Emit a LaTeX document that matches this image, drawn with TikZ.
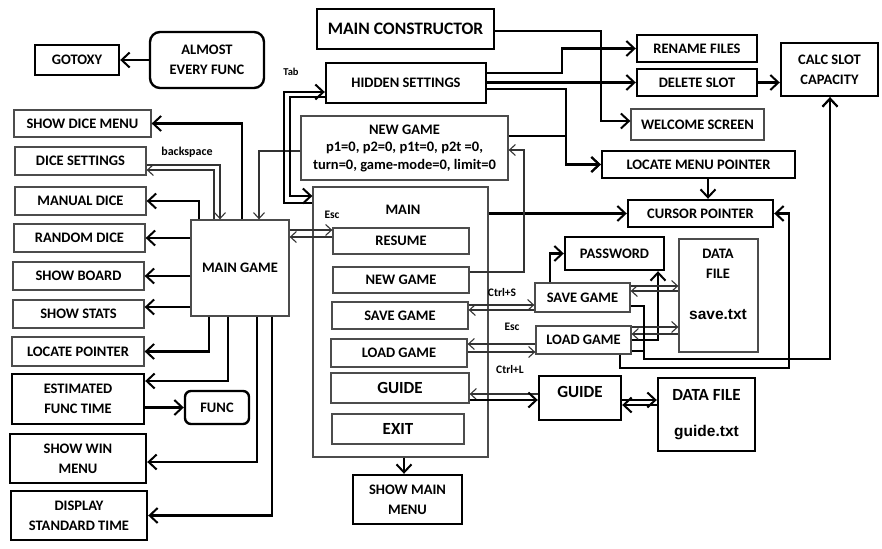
\documentclass[tikz,border=0pt]{standalone}
\usepackage{fontspec}
\setmainfont{Carlito}
\newfontfamily\arialbf{Liberation Sans}
\usetikzlibrary{arrows.meta}

\begin{document}
\begin{tikzpicture}[x=1pt, y=-1pt,
  >={Straight Barb[length=8pt,width=15pt,line width=2pt]},
  kb/.style={draw, line width=2.4pt, align=center, inner sep=1pt,
             font=\bfseries\fontsize{14.5}{20}\selectfont},
  tb/.style={draw=black!70, line width=1.3pt, align=center, inner sep=1pt,
             font=\bfseries\fontsize{14.5}{20}\selectfont},
  big/.style={font=\bfseries\fontsize{17}{20}\selectfont},
  ln/.style={line width=2.4pt},
  tl/.style={line width=1.1pt, draw=black!80, >={Straight Barb[length=6pt,width=11pt]}},
  key/.style={font=\bfseries\fontsize{11.5}{13}\selectfont, inner sep=0pt}]
\useasboundingbox (0,0) rectangle (882,548);

% left column
\node[kb, rounded corners=10pt, minimum width=114pt, minimum height=56pt] (almost) at (207,60) {ALMOST\\EVERY FUNC};
\node[kb, minimum width=84pt, minimum height=30pt] (gotoxy) at (77,60) {GOTOXY};
\node[tb, minimum width=137pt, minimum height=27pt] (showdice) at (82.5,123.5) {SHOW DICE MENU};
\node[tb, minimum width=131pt, minimum height=28pt] (dicesett) at (80.5,161) {DICE SETTINGS};
\node[tb, minimum width=131pt, minimum height=28pt] (manualdice) at (80.5,201) {MANUAL DICE};
\node[tb, minimum width=131pt, minimum height=28pt] (randomdice) at (79.5,238) {RANDOM DICE};
\node[tb, minimum width=131pt, minimum height=28pt] (showboard) at (78.5,276) {SHOW BOARD};
\node[tb, minimum width=131pt, minimum height=28pt] (showstats) at (78.5,314) {SHOW STATS};
\node[tb, minimum width=132pt, minimum height=29pt] (locateptr) at (78,351.5) {LOCATE POINTER};
\node[kb, minimum width=132pt, minimum height=50pt] (estfunc) at (78,399) {ESTIMATED\\FUNC TIME};
\node[kb, rounded corners=6pt, minimum width=64pt, minimum height=33pt] (func) at (217,407.5) {FUNC};
\node[kb, minimum width=136pt, minimum height=49pt] (showwin) at (78,458.5) {SHOW WIN\\MENU};
\node[kb, minimum width=136pt, minimum height=49pt] (disptime) at (79,515.5) {DISPLAY\\STANDARD TIME};
\node[tb, minimum width=98pt, minimum height=96pt] (maingame) at (240,268) {MAIN GAME};

% centre
\node[kb, minimum width=177pt, minimum height=40pt, font=\bfseries\fontsize{17.5}{20}\selectfont] (mainctor) at (405.5,29) {MAIN CONSTRUCTOR};
\node[kb, minimum width=160pt, minimum height=40pt] (hidden) at (406,83) {HIDDEN SETTINGS};
\node[tb, minimum width=207pt, minimum height=64pt, font=\bfseries\fontsize{14.5}{17.5}\selectfont] (newparams) at (404.5,148)
  {NEW GAME\\p1=0, p2=0, p1t=0, p2t =0,\\turn=0, game-mode=0, limit=0};
\node[tb, minimum width=175pt, minimum height=270pt] (mainbox) at (400.5,322) {};
\node[font=\bfseries\fontsize{14.5}{20}\selectfont] (maintitle) at (403,210) {MAIN};
\node[tb, minimum width=136pt, minimum height=26pt] (resume) at (401,241) {RESUME};
\node[tb, minimum width=136pt, minimum height=26pt] (newgame) at (401,280) {NEW GAME};
\node[tb, minimum width=136pt, minimum height=27pt] (savegame) at (400,315.5) {SAVE GAME};
\node[tb, minimum width=136pt, minimum height=28pt] (loadgame) at (399,353) {LOAD GAME};
\node[tb, big, minimum width=138pt, minimum height=30pt] (guide) at (400,388) {GUIDE};
\node[tb, big, minimum width=132pt, minimum height=30pt] (exit) at (398,429) {EXIT};
\node[kb, minimum width=109pt, minimum height=49pt] (showmain) at (407.5,499.5) {SHOW MAIN\\MENU};

% right
\node[kb, minimum width=120pt, minimum height=27pt] (rename) at (697,48.5) {RENAME FILES};
\node[kb, minimum width=120pt, minimum height=27pt] (delslot) at (697,82.5) {DELETE SLOT};
\node[kb, minimum width=97pt, minimum height=53pt] (calcslot) at (829.5,69.5) {CALC SLOT\\CAPACITY};
\node[tb, minimum width=133pt, minimum height=31pt] (welcome) at (697.5,124.5) {WELCOME SCREEN};
\node[kb, minimum width=193pt, minimum height=27pt] (locmenu) at (698.5,164.5) {LOCATE MENU POINTER};
\node[kb, minimum width=145pt, minimum height=27pt] (cursor) at (700.5,213.5) {CURSOR POINTER};
\node[kb, minimum width=99pt, minimum height=33pt] (password) at (614.5,253.5) {PASSWORD};
\node[tb, minimum width=79pt, minimum height=113pt] (savefile) at (718.5,295.5) {};
\node[align=center, font=\bfseries\fontsize{14.5}{20}\selectfont] (savefiletxt) at (718,284)
  {DATA\\FILE\\[21pt]{\arialbf\fontsize{15.5}{18}\selectfont save.txt}};
\node[tb, minimum width=95pt, minimum height=29pt] (savegame2) at (582.5,297.5) {SAVE GAME};
\node[tb, minimum width=95pt, minimum height=28pt] (loadgame2) at (583.5,340) {LOAD GAME};
\node[kb, big, minimum width=82pt, minimum height=44pt, text depth=12pt] (guide2) at (580,398) {GUIDE};
\node[kb, big, minimum width=97pt, minimum height=73pt] (guidefile) at (706.5,414.5)
  {DATA FILE\\[16pt]{\arialbf\fontsize{15.5}{18}\selectfont guide.txt}};

% left connectors
\draw[ln,->] (almost) -- (gotoxy);
\draw[ln,->] (maingame.north -| 242,0) |- (showdice.east);
\draw[tl,->] (dicesett.east |- 0,165) -| (maingame.north -| 220,0);
\draw[tl,->] (maingame.north -| 214,0) |- (dicesett.east |- 0,170);
\node[key, font=\bfseries\fontsize{12}{14}\selectfont] (bkspc) at (187,152) {backspace};
\draw[ln,->] (maingame.north -| 199,0) |- (manualdice.east);
\draw[ln,->] (maingame.west |- randomdice.east) -- (randomdice.east);
\draw[ln,->] (maingame.west |- showboard.east) -- (showboard.east);
\draw[ln,->] (maingame.west |- 0,307) -- (showstats.east |- 0,307);
\draw[ln,->] (maingame.south -| 209,0) |- (locateptr.east);
\draw[ln,->] (maingame.south -| 228,0) |- (estfunc.east |- 0,381);
\draw[ln,->] (estfunc.east |- func.west) -- (func.west);
\draw[ln,->] (maingame.south -| 257,0) |- (showwin.east |- 0,462);
\draw[ln,->] (maingame.south -| 272,0) |- (disptime.east);
\draw[tl,->] (newparams.west |- 0,151) -| (maingame.north -| 259,0);

% Tab
\draw[ln,->] (mainbox.west |- 0,203) -- (284,203) |- (hidden.west |- 0,92);
\draw[ln,->] (hidden.west |- 0,97) -- (290,97) |- (mainbox.west |- 0,196);
\node[key, font=\bfseries\fontsize{10.5}{12}\selectfont] (tab) at (291,72) {Tab};

% top right
\draw[ln,->] (mainctor.east |- 0,31) -| (601,121) -- (welcome.west |- 0,121);
\draw[ln,->] (hidden.east |- 0,73) -- (562,73) |- (rename.west);
\draw[ln,->] (hidden.east |- delslot.west) -- (delslot.west);
\draw[ln,->] (hidden.east |- 0,89) -- (566,89) |- (locmenu.west);
\draw[ln,->] (newparams.east |- 0,136) -- (566,136) |- (locmenu.west);
\draw[ln,->] (delslot.east) -- (calcslot.west |- delslot.east);
\draw[ln,->] (locmenu.south -| 708,0) -- (cursor.north -| 708,0);
\draw[ln,->] (mainbox.east |- cursor.west) -- (cursor.west);
\draw[tl,->] (newgame.east |- 0,272) -| (524,150) -- (newparams.east |- 0,150);

% menu pairs
\draw[tl,->] (maingame.east |- 0,230) -- (resume.west |- 0,230);
\draw[tl,->] (resume.west |- 0,237) -- (maingame.east |- 0,237);
\node[key] (esc1) at (332,215) {Esc};
\draw[tl,->] (savegame.east |- 0,305) -- (savegame2.west |- 0,305);
\draw[tl,->] (savegame2.west |- 0,310) -- (savegame.east |- 0,310);
\node[key] (ctrls) at (502,293) {Ctrl+S};
\draw[tl,->] (loadgame2.west |- 0,344) -- (loadgame.east |- 0,344);
\draw[tl,->] (loadgame.east |- 0,352) -- (loadgame2.west |- 0,352);
\node[key] (esc2) at (512,327) {Esc};
\node[key] (ctrll) at (510,370) {Ctrl+L};
\draw[tl,->] (guide2.west |- 0,394) -- (guide.east |- 0,394);
\draw[ln,->] (guide.east |- 0,400) -- (guide2.west |- 0,400);
\draw[ln,->] (guide2.east |- 0,400) -- (guidefile.west |- 0,400);
\draw[ln,->] (guidefile.west |- 0,405) -- (guide2.east |- 0,405);

% save / load
\draw[ln,->] (savegame2.north -| 550,0) |- (password.west);
\draw[ln,->] (loadgame2.east) -| (password.south -| 658,0);
\draw[tl,->] (savegame2.east |- 0,286) -- (savefile.west |- 0,286);
\draw[tl,->] (savefile.west |- 0,291) -- (savegame2.east |- 0,291);
\draw[tl,->] (loadgame2.east |- 0,327) -- (savefile.west |- 0,327);
\draw[tl,->] (savefile.west |- 0,334) -- (loadgame2.east |- 0,334);
\draw[ln,->] (savegame2.east |- 0,306) -| (644,359) -| (calcslot.south -| 830,0);
\draw[ln,->] (loadgame2.east |- 0,351) -| (644,359) -| (calcslot.south -| 830,0);
\draw[ln,->] (loadgame2.south -| 620,0) |- (789,368) |- (cursor.east);
\draw[ln,->] (mainbox.south -| 404,0) -- (showmain.north -| 404,0);
\end{tikzpicture}
\end{document}
